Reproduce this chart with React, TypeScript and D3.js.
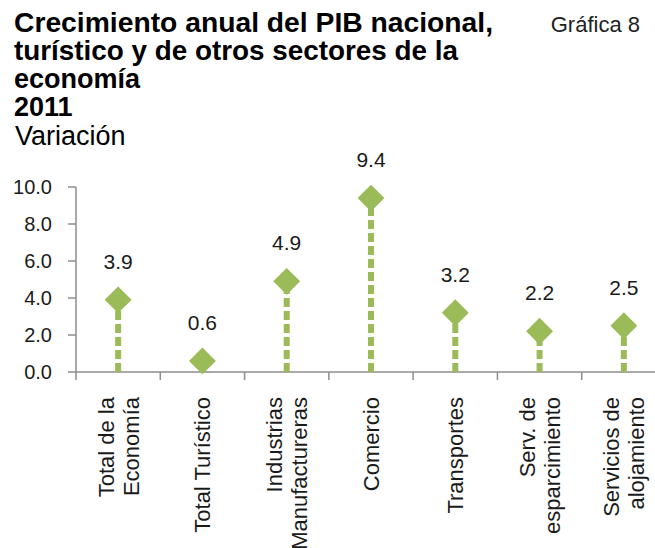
import React from 'react';
import * as d3 from 'd3';

const width = 655;
const height = 548;
const margin = { top: 187, right: -11, bottom: 176, left: 76 };

const categories = [
  ['Total de la', 'Economía'],
  ['Total  Turístico'],
  ['Industrias', 'Manufactureras'],
  ['Comercio'],
  ['Transportes'],
  ['Serv.  de', 'esparcimiento'],
  ['Servicios de', 'alojamiento'],
];
const values = [3.9, 0.6, 4.9, 9.4, 3.2, 2.2, 2.5];
const yTicks = [0, 2, 4, 6, 8, 10];
const titleLines = [
  'Crecimiento  anual del PIB nacional,',
  'turístico y de otros sectores de la',
  'economía',
  '2011',
];

const green = '#9BBB59';
const axisColor = '#8c8c8c';
const font = '"Liberation Sans", Arial, sans-serif';

const App = () => {
  const keys = categories.map(c => c.join(' '));

  const x = d3.scaleBand()
    .domain(keys)
    .range([margin.left, width - margin.right])
    .padding(0);

  const y = d3.scaleLinear()
    .domain([0, 10])
    .range([height - margin.bottom, margin.top]);

  const diamond = d3.symbol().type(d3.symbolDiamond2).size(460)();

  const y0 = y(0);
  const half = x.bandwidth() / 2;

  return (
    <svg width={width} height={height} style={{ position: 'absolute', left: 0, top: 0, background: '#fff', whiteSpace: 'pre' }} fontFamily={font}>
      {/* title */}
      {titleLines.map((t, i) => (
        <text key={t} x={14} y={32 + i * 28} fontSize={27} fontWeight="bold" fill="#000"
          textLength={i === 0 ? 479 : i === 1 ? 444 : undefined} lengthAdjust="spacingAndGlyphs">{t}</text>
      ))}
      <text x={15} y={145} fontSize={27} fill="#000">Variación</text>
      <text x={640} y={32} fontSize={22} fill="#222" textAnchor="end">Gráfica 8</text>

      {/* y axis */}
      <line x1={margin.left} x2={margin.left} y1={y(10)} y2={y0} stroke={axisColor} strokeWidth={1.5} />
      {yTicks.map(t => (
        <g key={t}>
          <line x1={margin.left - 8} x2={margin.left} y1={y(t)} y2={y(t)} stroke={axisColor} strokeWidth={1.5} />
          <text x={52} y={y(t) + 7} fontSize={20} textAnchor="end" fill="#1a1a1a">{d3.format('.1f')(t)}</text>
        </g>
      ))}

      {/* x axis */}
      <line x1={margin.left} x2={width - margin.right} y1={y0} y2={y0} stroke={axisColor} strokeWidth={1.5} />
      {keys.map(k => (
        <line key={k} x1={x(k)} x2={x(k)} y1={y0} y2={y0 + 8} stroke={axisColor} strokeWidth={1.5} />
      ))}

      {/* stems, markers, labels */}
      {keys.map((k, i) => {
        const cx = x(k) + half;
        const cy = y(values[i]);
        return (
          <g key={k}>
            <line x1={cx} x2={cx} y1={y0} y2={cy} stroke={green} strokeWidth={6} strokeDasharray="9 4" />
            <path d={diamond} transform={`translate(${cx},${cy})`} fill={green} />
            <text x={cx} y={cy - 31} fontSize={21} textAnchor="middle" fill="#1a1a1a">{d3.format('.1f')(values[i])}</text>
          </g>
        );
      })}

      {/* category labels */}
      {categories.map((lines, i) => {
        const cx = x(keys[i]) + half;
        const n = lines.length;
        return lines.map((l, j) => {
          const bx = cx + 8 + (j - (n - 1) / 2) * 25;
          return (
            <text key={l} transform={`translate(${bx},397) rotate(-90)`} fontSize={22} textAnchor="end" fill="#1a1a1a">{l}</text>
          );
        });
      })}
    </svg>
  );
};

export default App;
